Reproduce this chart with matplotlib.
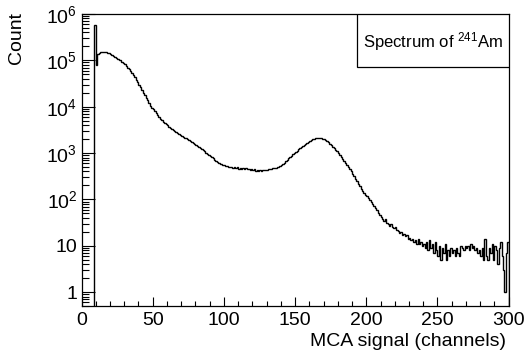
import numpy as np
import matplotlib
matplotlib.use("Agg")
import matplotlib.pyplot as plt
from matplotlib.patches import Rectangle
from matplotlib.ticker import LogLocator, MultipleLocator, NullFormatter

plt.rcParams['font.family'] = ['Liberation Sans', 'DejaVu Sans']
plt.rcParams['mathtext.fontset'] = 'custom'
plt.rcParams['mathtext.rm'] = 'Liberation Sans'
plt.rcParams['mathtext.it'] = 'Liberation Sans:italic'

# counts per MCA channel, starting at channel 9 (channels 0-8 are empty)
first_channel = 9
counts = [
    570000,
    80000, 135000, 145000, 150000, 152000, 153000, 152000, 150000, 146000, 141000,   # 10-19
    135000, 129000, 124000, 119000, 114000, 109000, 104000, 100000, 93000, 87000,    # 20-29
    82000, 76000, 70000, 64500, 59000, 53500, 48000, 43000, 38000, 33500,            # 30-39
    29500, 26000, 22800, 20000, 17600, 15500, 13600, 12000, 10600, 9500,             # 40-49
    8700, 7900, 7200, 6500, 5900, 5400, 5050, 4750, 4450, 4200,                      # 50-59
    3950, 3700, 3500, 3330, 3160, 3000, 2850, 2710, 2580, 2450,                      # 60-69
    2350, 2250, 2150, 2060, 1970, 1880, 1800, 1720, 1640, 1570,                      # 70-79
    1500, 1430, 1360, 1300, 1220, 1150, 1080, 1020, 960, 905,                        # 80-89
    850, 805, 765, 725, 690, 655, 620, 590, 575, 560,                                # 90-99
    555, 525, 520, 510, 500, 505, 482, 498, 471, 488,                                # 100-109
    462, 475, 455, 468, 450, 472, 445, 458, 440, 452,                                # 110-119
    430, 445, 420, 438, 415, 430, 412, 440, 425, 438,                                # 120-129
    432, 445, 450, 460, 468, 478, 485, 498, 505, 520,                                # 130-139
    545, 580, 620, 665, 715, 770, 825, 880, 940, 1000,                               # 140-149
    1060, 1130, 1200, 1280, 1350, 1430, 1510, 1590, 1670, 1750,                      # 150-159
    1830, 1900, 1960, 2020, 2070, 2100, 2110, 2100, 2070, 2020,                      # 160-169
    1960, 1890, 1810, 1700, 1580, 1470, 1370, 1270, 1180, 1100,                      # 170-179
    1000, 910, 840, 745, 680, 615, 565, 495, 445, 400,                               # 180-189
    355, 320, 275, 245, 215, 192, 170, 152, 138, 125,                                # 190-199
    117, 105, 96, 86, 80, 72, 66, 60, 52, 47,                                        # 200-209
    42, 38, 35, 38, 31, 30, 27, 29, 25, 24,                                          # 210-219
    26, 22, 21, 19, 20, 17, 18, 16, 17, 14,                                          # 220-229
    15, 13, 14, 12, 13, 11, 14, 11, 12, 10,                                          # 230-239
    11, 9, 12, 8, 13, 9, 11, 7, 12, 8,                                               # 240-249
    6, 10, 5, 9, 7, 11, 5, 8, 6, 9,                                                  # 250-259
    7, 8, 6, 9, 7, 6, 10, 9, 8, 10,                                                  # 260-269
    9, 10, 8, 11, 9, 10, 8, 9, 7, 8,                                                 # 270-279
    6, 9, 5, 14, 6, 5, 9, 7, 11, 5,                                                  # 280-289
    10, 8, 4, 9, 12, 6, 3, 1, 7, 12,                                                 # 290-299
]

yticks = [1, 10, 1e2, 1e3, 1e4, 1e5, 1e6]
ytick_labels = ['1', '10', r'$\mathregular{10^{2}}$', r'$\mathregular{10^{3}}$',
                r'$\mathregular{10^{4}}$', r'$\mathregular{10^{5}}$', r'$\mathregular{10^{6}}$']
xticks = [0, 50, 100, 150, 200, 250, 300]

edges = np.arange(first_channel, first_channel + len(counts) + 1)

fig = plt.figure(figsize=(5.26, 3.58), dpi=100)
ax = fig.add_axes([0.155, 0.145, 0.812, 0.816])

ax.stairs(counts, edges, baseline=0.5, color='black', lw=1.0)

ax.set_yscale('log')
ax.set_xlim(0, 300)
ax.set_ylim(0.5, 1e6)

ax.set_xticks(xticks)
ax.set_xticklabels([str(t) for t in xticks])
ax.xaxis.set_minor_locator(MultipleLocator(10))
ax.set_yticks(yticks)
ax.set_yticklabels(ytick_labels)
ax.yaxis.set_minor_locator(LogLocator(base=10, subs=np.arange(2, 10)))
ax.yaxis.set_minor_formatter(NullFormatter())

ax.tick_params(axis='both', which='both', direction='in', top=False, right=False,
               width=0.8, labelsize=14)
ax.tick_params(axis='x', which='major', length=6.5, pad=4)
ax.tick_params(axis='x', which='minor', length=3.6)
ax.tick_params(axis='y', which='major', length=9.5, pad=3)
ax.tick_params(axis='y', which='minor', length=5)
for s in ax.spines.values():
    s.set_linewidth(0.9)

# legend box
ax.add_patch(Rectangle((0.645, 0.818), 0.355, 0.182, transform=ax.transAxes,
                       facecolor='white', edgecolor='black', lw=0.9, zorder=5))
ax.text(0.822, 0.907, r'Spectrum of $\mathregular{^{241}}$Am', transform=ax.transAxes,
        ha='center', va='center', fontsize=12, zorder=6)

fig.text(0.032, 0.966, 'Count', rotation=90, ha='center', va='top', fontsize=14)
fig.text(0.962, 0.045, 'MCA signal (channels)', ha='right', va='center', fontsize=14)

fig.savefig('out.png', dpi=100)
